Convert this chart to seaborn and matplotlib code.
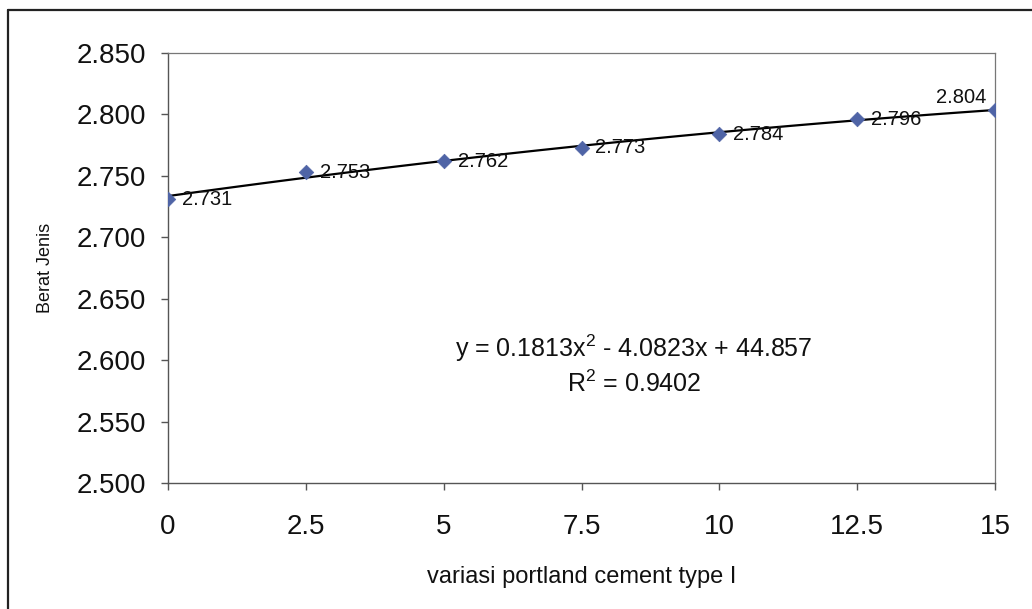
import matplotlib
matplotlib.use("Agg")
import matplotlib.pyplot as plt
from matplotlib.lines import Line2D
import seaborn as sns
import pandas as pd

# Data
variasi = [0, 2.5, 5, 7.5, 10, 12.5, 15]
berat_jenis = [2.731, 2.753, 2.762, 2.773, 2.784, 2.796, 2.804]
x_ticks = [0, 2.5, 5, 7.5, 10, 12.5, 15]
x_tick_labels = ["0", "2.5", "5", "7.5", "10", "12.5", "15"]
y_ticks = [2.500, 2.550, 2.600, 2.650, 2.700, 2.750, 2.800, 2.850]
equation_text = "y = 0.1813x$^{2}$ - 4.0823x + 44.857"
r2_text = "R$^{2}$ = 0.9402"

df = pd.DataFrame({"x": variasi, "y": berat_jenis})

sns.set_style("white")
plt.rcParams["font.family"] = ["Liberation Sans", "DejaVu Sans"]
plt.rcParams["mathtext.fontset"] = "custom"
plt.rcParams["mathtext.rm"] = "Liberation Sans"
plt.rcParams["mathtext.default"] = "regular"

fig = plt.figure(figsize=(10.32, 6.09), dpi=100)
fig.patch.set_facecolor("white")
ax = fig.add_axes([168 / 1032, 1 - 483 / 609, (995 - 168) / 1032, (483 - 53) / 609])

# trendline (polynomial order 2)
sns.regplot(data=df, x="x", y="y", order=2, ci=None, scatter=False,
            line_kws=dict(color="black", lw=1.6, zorder=2), ax=ax)
# points
sns.scatterplot(data=df, x="x", y="y", marker="D", s=55, color="#4F64A6",
                edgecolor="#4F64A6", linewidth=0.5, zorder=3, ax=ax, legend=False)

# data labels
for i, (xv, yv) in enumerate(zip(variasi, berat_jenis)):
    if i == len(variasi) - 1:
        ax.annotate(f"{yv:.3f}", (xv, yv), xytext=(-24, 9), textcoords="offset points",
                    ha="center", va="center", fontsize=14.5, color="#111111", zorder=4)
    else:
        ax.annotate(f"{yv:.3f}", (xv, yv), xytext=(10, 0), textcoords="offset points",
                    ha="left", va="center", fontsize=14.5, color="#111111", zorder=4)

# equation
ax.text(8.45, 2.610, equation_text, ha="center", va="center", fontsize=18, color="#111111")
ax.text(8.45, 2.581, r2_text, ha="center", va="center", fontsize=18, color="#111111")

ax.set_xlim(0, 15)
ax.set_ylim(2.5, 2.85)
ax.set_xticks(x_ticks)
ax.set_xticklabels(x_tick_labels)
ax.set_yticks(y_ticks)
ax.set_yticklabels([f"{v:.3f}" for v in y_ticks])
ax.tick_params(axis="both", labelsize=20, colors="#111111")
ax.tick_params(axis="x", direction="out", length=5, width=1, color="#555555", pad=17, bottom=True)
ax.tick_params(axis="y", direction="out", length=5, width=1, color="#555555", pad=11, left=True)

ax.set_xlabel("variasi portland cement type I", fontsize=17, color="#111111", labelpad=19)
ax.set_ylabel("Berat Jenis", fontsize=13, color="#111111", labelpad=16)

for side in ["left", "bottom"]:
    ax.spines[side].set_color("#555555")
    ax.spines[side].set_linewidth(1.0)
for side in ["top", "right"]:
    ax.spines[side].set_visible(True)
    ax.spines[side].set_color("#777777")
    ax.spines[side].set_linewidth(0.9)
    ax.spines[side].set_linestyle((0, (2, 1)))

# outer chart border
fig.add_artist(Line2D([8 / 1032, 8 / 1032], [0, 1 - 10 / 609], color="#222222", lw=1.6))
fig.add_artist(Line2D([8 / 1032, 1], [1 - 10 / 609, 1 - 10 / 609], color="#222222", lw=1.6))

fig.savefig("out.png", dpi=100, facecolor="white")
